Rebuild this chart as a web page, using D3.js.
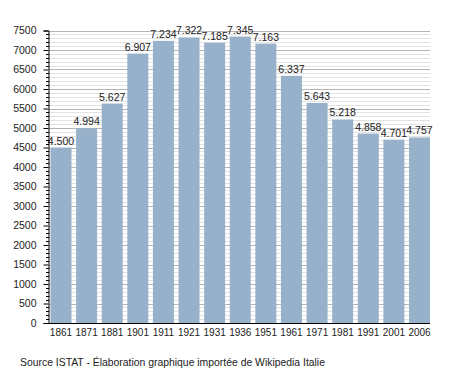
<!DOCTYPE html>
<html><head><meta charset="utf-8">
<script src="https://cdn.jsdelivr.net/npm/d3@7/dist/d3.min.js"></script>
<style>
html,body{margin:0;padding:0;background:#fff;}
text{font-family:"Liberation Sans",Arial,sans-serif;fill:#222;}
</style></head>
<body>
<svg id="chart" width="458" height="373"></svg>
<script>
const years = ["1861","1871","1881","1901","1911","1921","1931","1936","1951","1961","1971","1981","1991","2001","2006"];
const population = [4500,4994,5627,6907,7234,7322,7185,7345,7163,6337,5643,5218,4858,4701,4757];
const majorTicks = [0,500,1000,1500,2000,2500,3000,3500,4000,4500,5000,5500,6000,6500,7000,7500];
const sourceText = "Source ISTAT - Élaboration graphique importée de Wikipedia Italie";

(function(){
const svg = d3.select("#chart");
const mLeft = 49, mRight = 430, mTop = 30.5, mBottom = 323;

const x = d3.scaleBand().domain(years).range([50.5, 430]).paddingInner(0.18).paddingOuter(0);
const y = d3.scaleLinear().domain([0, 7500]).range([mBottom, mTop]);

const minorTicks = d3.range(0, 7501, 100).filter(v => v % 500 !== 0);

svg.append("g").selectAll("line").data(minorTicks).join("line")
  .attr("x1", mLeft).attr("x2", mRight)
  .attr("y1", d => Math.round(y(d)) + 0.5).attr("y2", d => Math.round(y(d)) + 0.5)
  .attr("stroke", "#e2e2e2").attr("stroke-width", 1);
svg.append("g").selectAll("line").data(majorTicks.filter(d => d > 0)).join("line")
  .attr("x1", mLeft).attr("x2", mRight)
  .attr("y1", d => Math.round(y(d)) + 0.5).attr("y2", d => Math.round(y(d)) + 0.5)
  .attr("stroke", "#b4b4b4").attr("stroke-width", 1);

svg.append("g").selectAll("rect").data(population).join("rect")
  .attr("x", (d, i) => x(years[i]))
  .attr("width", x.bandwidth())
  .attr("y", d => y(d))
  .attr("height", d => mBottom - y(d))
  .attr("fill", "#97b1cb");

const fmt = d => d3.format(",")(d).replace(/,/g, ".");
svg.append("g").selectAll("text").data(population).join("text")
  .attr("x", (d, i) => x(years[i]) + x.bandwidth() / 2)
  .attr("y", d => y(d) - 3)
  .attr("text-anchor", "middle")
  .attr("font-size", "10.5px")
  .text(fmt);

const yAxis = svg.append("g").attr("transform", `translate(${mLeft - 0.5},0)`)
  .call(d3.axisLeft(y).tickValues(majorTicks).tickSize(5).tickPadding(7).tickFormat(d3.format("d")));
yAxis.select(".domain").attr("stroke", "#000");
yAxis.selectAll(".tick line").attr("stroke", "#000");
yAxis.selectAll("text").attr("font-size", "10.5px").attr("fill", "#222")
  .style("font-family", '"Liberation Sans",Arial,sans-serif');
svg.append("g").selectAll("line").data(minorTicks).join("line")
  .attr("x1", mLeft - 3).attr("x2", mLeft)
  .attr("y1", d => Math.round(y(d)) + 0.5).attr("y2", d => Math.round(y(d)) + 0.5)
  .attr("stroke", "#000");

const xAxis = svg.append("g").attr("transform", `translate(0,${mBottom + 0.5})`)
  .call(d3.axisBottom(x).tickSize(0).tickPadding(5));
xAxis.select(".domain").attr("stroke", "#000").attr("d", `M${mLeft - 1},0H${mRight}`);
xAxis.selectAll("text").attr("font-size", "10px").attr("fill", "#222")
  .style("font-family", '"Liberation Sans",Arial,sans-serif');

svg.append("text").attr("x", 20).attr("y", 366).attr("font-size", "10.4px").text(sourceText);
})();
</script>
</body></html>
